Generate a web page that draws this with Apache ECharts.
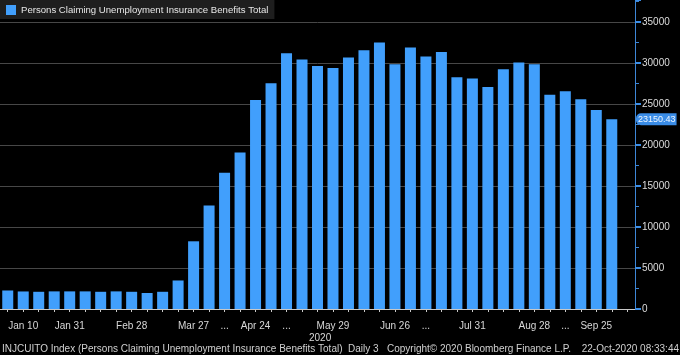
<!DOCTYPE html>
<html>
<head>
<meta charset="utf-8">
<script src="https://cdn.jsdelivr.net/npm/echarts@6/dist/echarts.min.js"></script>
<style>
html,body{margin:0;padding:0;background:#000;}
#c{width:680px;height:355px;}
</style>
</head>
<body>
<div id="c"></div>
<script>
var categories = ['Jan 3','Jan 10','Jan 17','Jan 24','Jan 31','Feb 7','Feb 14','Feb 21','Feb 28','Mar 6','Mar 13','Mar 20','Mar 27','Apr 3','Apr 10','Apr 17','Apr 24','May 1','May 8','May 15','May 22','May 29','Jun 5','Jun 12','Jun 19','Jun 26','Jul 3','Jul 10','Jul 17','Jul 24','Jul 31','Aug 7','Aug 14','Aug 21','Aug 28','Sep 4','Sep 11','Sep 18','Sep 25','Oct 2','Oct 9'];
var tickLabels = {'Jan 10':'Jan 10','Jan 31':'Jan 31','Feb 28':'Feb 28','Mar 27':'Mar 27','Apr 10':'...','Apr 24':'Apr 24','May 8':'...','May 29':'May 29','Jun 26':'Jun 26','Jul 10':'...','Jul 31':'Jul 31','Aug 28':'Aug 28','Sep 11':'...','Sep 25':'Sep 25'};
var claims = [2260,2140,2100,2150,2150,2150,2100,2150,2100,1950,2100,3480,8260,12620,16610,19100,25500,27540,31210,30430,29660,29410,30670,31580,32510,29870,31900,30800,31370,28270,28110,27090,29250,30060,29870,26150,26560,25580,24280,23150.43];
var lastValue = 23150.43;
var yTicks = [0,5000,10000,15000,20000,25000,30000,35000];

var FONT = "'Liberation Sans',Arial,sans-serif";
var chart = echarts.init(document.getElementById('c'));
chart.setOption({
  backgroundColor:'#000',
  animation:false,
  grid:{left:-3,right:45,top:0,bottom:46,containLabel:false},
  legend:{
    left:0,top:0,padding:[5,6,4,6],
    backgroundColor:'#1e1e1e',
    itemWidth:10,itemHeight:10,itemGap:4,
    icon:'rect',
    textStyle:{color:'#e6e6e6',fontFamily:FONT,fontSize:9.6},
    data:['Persons Claiming Unemployment Insurance Benefits Total']
  },
  xAxis:{
    type:'category',
    data:categories,
    boundaryGap:true,
    axisLine:{show:true,lineStyle:{color:'#c8c8c8',width:1}},
    axisTick:{show:true,interval:0,alignWithLabel:true,length:3,lineStyle:{color:'#c8c8c8'}},
    axisLabel:{interval:0,color:'#d8d8d8',fontFamily:FONT,fontSize:10,margin:12,
      formatter:function(v){return tickLabels[v]||'';}},
    splitLine:{show:false}
  },
  yAxis:{
    type:'value',
    position:'right',
    min:0,max:37700,interval:5000,
    axisLine:{show:true,lineStyle:{color:'#3d86d6',width:1}},
    axisTick:{show:true,length:6,lineStyle:{color:'#3d8ee6',width:2}},
    minorTick:{show:true,splitNumber:2,length:4,lineStyle:{color:'#3d86d6',width:1}},
    axisLabel:{color:'#dcdcdc',fontFamily:FONT,fontSize:10,margin:7,showMaxLabel:false,
      formatter:function(v){return yTicks.indexOf(v)>=0?String(v):'';}},
    splitLine:{show:true,showMaxLine:false,lineStyle:{color:'#474747',width:1}}
  },
  series:[{
    name:'Persons Claiming Unemployment Insurance Benefits Total',
    type:'bar',
    data:claims,
    barWidth:11,
    itemStyle:{color:'#419ffc'},
    markLine:{
      silent:true,symbol:'none',
      lineStyle:{color:'rgba(0,0,0,0)',width:1,type:'solid'},
      label:{show:true,position:'end',distance:1,formatter:function(){return lastValue.toFixed(2);},
        backgroundColor:'#3a8ce6',color:'#eef6ff',fontFamily:FONT,fontSize:9,padding:[2,1,1,2],borderRadius:[5,0,0,5]},
      data:[{yAxis:lastValue}]
    }
  }],
  graphic:[
    {type:'text',left:309,top:333,style:{text:'2020',fill:'#d8d8d8',font:'10px '+FONT}},
    {type:'text',left:2,top:344,style:{text:'INJCUITO Index (Persons Claiming Unemployment Insurance Benefits Total)  Daily 3',fill:'#d0d0d0',font:'10px '+FONT}},
    {type:'text',left:387,top:344,style:{text:'Copyright\u00a9 2020 Bloomberg Finance L.P.',fill:'#d0d0d0',font:'10px '+FONT}},
    {type:'text',right:1,top:344,style:{text:'22-Oct-2020 08:33:44',fill:'#d0d0d0',font:'10px '+FONT}}
  ]
});
</script>
</body>
</html>
